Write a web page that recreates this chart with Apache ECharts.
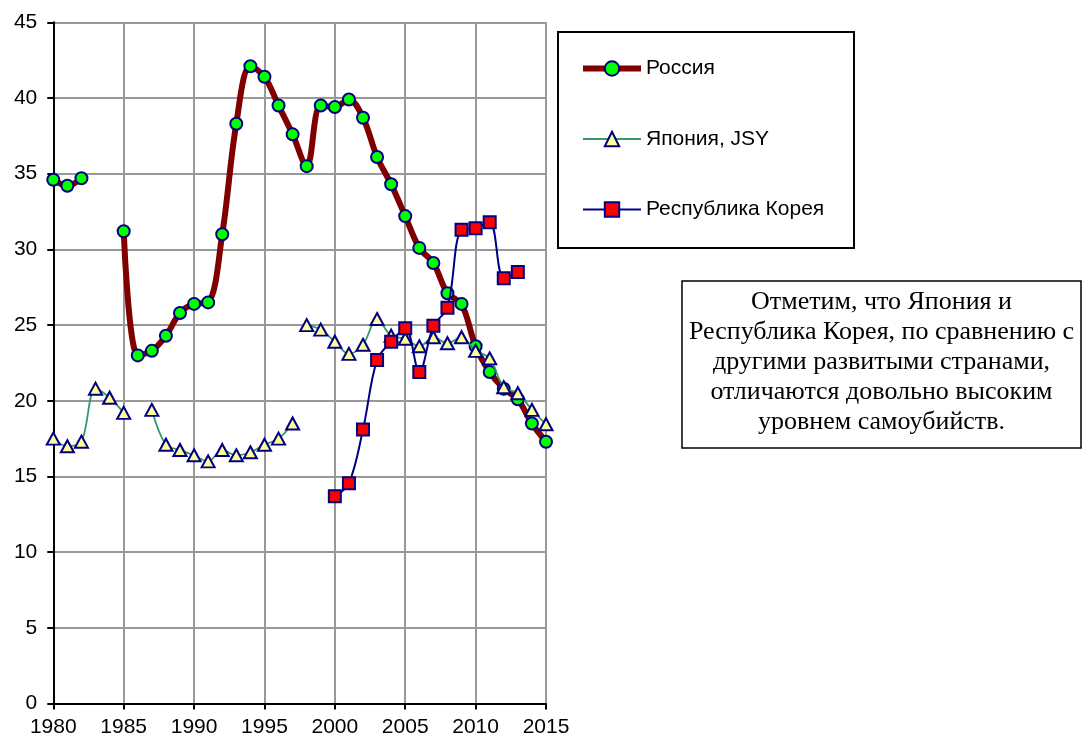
<!DOCTYPE html>
<html>
<head>
<meta charset="utf-8">
<script src="https://cdn.jsdelivr.net/npm/echarts@6/dist/echarts.min.js"></script>
<style>
html,body{margin:0;padding:0;background:#fff;}
#c{width:1083px;height:742px;}
</style>
</head>
<body>
<div id="c"></div>
<script>
// ---- data ----
const years = [1980,1981,1982,1983,1984,1985,1986,1987,1988,1989,1990,1991,1992,1993,1994,1995,1996,1997,1998,1999,2000,2001,2002,2003,2004,2005,2006,2007,2008,2009,2010,2011,2012,2013,2014,2015];
const russia = [34.6,34.2,34.7,null,null,31.2,23.0,23.3,24.3,25.8,26.4,26.5,31.0,38.3,42.1,41.4,39.5,37.6,35.5,39.5,39.4,39.9,38.7,36.1,34.3,32.2,30.1,29.1,27.1,26.4,23.6,21.9,20.8,20.1,18.5,17.3];
const japanYearsA = [1980,1981,1982,1983,1984,1985,1986,1987,1988,1989,1990,1991,1992,1993,1994,1995,1996,1997];
const japanA = [17.5,17.0,17.3,20.8,20.2,19.2,null,19.4,17.1,16.75,16.4,16.0,16.75,16.4,16.6,17.1,17.5,18.5];
const japanYearsB = [1998,1999,2000,2001,2002,2003,2004,2005,2006,2007,2008,2009,2010,2011,2012,2013,2014,2015];
const japanB = [25.0,24.7,23.9,23.1,23.7,25.4,24.3,24.1,23.6,24.2,23.8,24.2,23.3,22.8,20.9,20.5,19.4,18.45];
const koreaYears = [2000,2001,2002,2003,2004,2005,2006,2007,2008,2009,2010,2011,2012,2013];
const korea = [13.7,14.55,18.1,22.7,23.9,24.8,21.9,24.95,26.15,31.3,31.4,31.8,28.1,28.5];
const names = ['Россия','Япония, JSY','Республика Корея'];
const yTicks = {min:0, max:45, interval:5};
const xTicks = {min:1980, max:2015, interval:5};
const note = ['Отметим, что Япония и','Республика Корея, по сравнению с','другими развитыми странами,','отличаются довольно высоким','уровнем самоубийств.'];

function pairs(xs, vs){ return xs.map((x,i)=>[x, vs[i]==null ? '-' : vs[i]]); }

const chart = echarts.init(document.getElementById('c'), null, {renderer:'canvas'});
const axisFont = {fontFamily:'"Liberation Sans", Arial, sans-serif', fontSize:21, color:'#000'};
const russiaLine = {color:'#800000', width:6};
const japanLine = {color:'#339966', width:1.8};
const koreaLine = {color:'#000080', width:2};
const russiaStyle = {
  type:'line', name:names[0], smooth:0.35, connectNulls:false,
  symbol:'circle', symbolSize:12,
  lineStyle:russiaLine,
  itemStyle:{color:'#00ff00', borderColor:'#000080', borderWidth:2},
  z:2
};
const japanStyle = {
  type:'line', name:names[1], smooth:0.35, connectNulls:false,
  symbol:'triangle', symbolSize:[13,12],
  lineStyle:japanLine,
  itemStyle:{color:'#ffff99', borderColor:'#000080', borderWidth:2},
  z:3
};
const koreaStyle = {
  type:'line', name:names[2], smooth:0.35, connectNulls:false,
  symbol:'rect', symbolSize:12,
  lineStyle:koreaLine,
  itemStyle:{color:'#ff0000', borderColor:'#000080', borderWidth:2},
  z:4
};

chart.setOption({
  animation:false,
  backgroundColor:'#fff',
  grid:{left:53.3, right:1083-546, top:22.3, bottom:742-703.6, outerBoundsMode:'none', containLabel:false},
  xAxis:{
    type:'value', min:xTicks.min, max:xTicks.max, interval:xTicks.interval,
    axisLine:{show:true, onZero:false, lineStyle:{color:'#000', width:2}},
    axisTick:{show:true, length:6, lineStyle:{color:'#000', width:2}},
    axisLabel:{...axisFont, margin:13, formatter:v=>String(v)},
    splitLine:{show:true, lineStyle:{color:'#999', width:2}}
  },
  yAxis:{
    type:'value', min:yTicks.min, max:yTicks.max, interval:yTicks.interval,
    axisLine:{show:true, lineStyle:{color:'#000', width:2}},
    axisTick:{show:true, length:6, lineStyle:{color:'#000', width:2}},
    axisLabel:{...axisFont, margin:16},
    splitLine:{show:true, lineStyle:{color:'#999', width:2}}
  },
  legend:{
    data:[
      {name:names[0], lineStyle:russiaLine},
      {name:names[1], lineStyle:japanLine},
      {name:names[2], lineStyle:koreaLine}
    ],
    orient:'vertical', left:575, top:53,
    itemWidth:58, itemHeight:18, itemGap:49.5,
    textStyle:{fontFamily:'"Liberation Sans", Arial, sans-serif', fontSize:21, color:'#000', lineHeight:18},
    selectedMode:false
  },
  graphic:[
    {type:'rect', shape:{x:558, y:32, width:296, height:216}, style:{fill:'none', stroke:'#000', lineWidth:2}, z:1},
    {type:'rect', shape:{x:682, y:281, width:399, height:167}, style:{fill:'#fff', stroke:'#000', lineWidth:1.5}, z:1},
    {type:'text', x:881.5, y:362, style:{text:note.join('\n'), font:'26px "Liberation Serif", "Times New Roman", serif', fill:'#000', textAlign:'center', textVerticalAlign:'middle', lineHeight:30}, z:2}
  ],
  series:[
    {...russiaStyle, data:pairs(years, russia)},
    {...japanStyle, data:pairs(japanYearsA, japanA)},
    {...japanStyle, data:pairs(japanYearsB, japanB)},
    {...koreaStyle, data:pairs(koreaYears, korea)}
  ]
});
</script>
</body>
</html>
